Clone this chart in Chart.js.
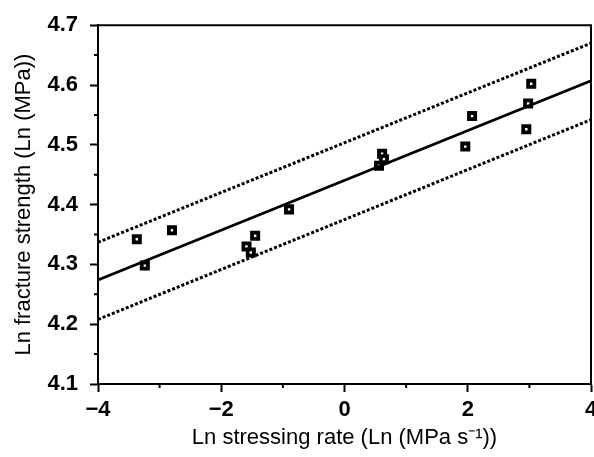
<!DOCTYPE html>
<html>
<head>
<meta charset="utf-8">
<script src="https://cdn.jsdelivr.net/npm/chart.js@4"></script>
<style>
  html, body { margin: 0; padding: 0; background: #fff; }
  canvas { display: block; }
</style>
</head>
<body>
<canvas id="myChart" width="594" height="457"></canvas>
<script>
// measured points
const stressRate = [-3.37, -3.24, -2.80, -1.59, -1.52, -1.45, -0.90, 0.56, 0.61, 0.64, 1.96, 2.07, 2.95, 2.98, 3.03];
const strength = [4.342, 4.298, 4.357, 4.330, 4.320, 4.348, 4.392, 4.465, 4.485, 4.476, 4.497, 4.548, 4.526, 4.569, 4.602];

// regression line and bounds, ends at x = -4 and x = 4
const lineX = [-4, 4];
const fitY = [4.274, 4.607];
const upperY = [4.337, 4.670];
const lowerY = [4.208, 4.542];

const xMinor = [-3, -1, 1, 3];
const yMinor = [4.15, 4.25, 4.35, 4.45, 4.55, 4.65];

const font = "'Liberation Sans', Arial, sans-serif";

const pairs = (xs, ys) => xs.map((x, i) => ({ x: x, y: ys[i] }));

const frame = {
  id: "frame",
  afterDraw(chart) {
    const ctx = chart.ctx;
    const a = chart.chartArea;
    const xs = chart.scales.x;
    const ys = chart.scales.y;
    ctx.save();
    ctx.strokeStyle = "#000";
    ctx.lineWidth = 2;
    ctx.beginPath();
    ctx.moveTo(a.left, a.top);
    ctx.lineTo(a.right, a.top);
    ctx.lineTo(a.right, a.bottom);
    ctx.stroke();
    ctx.beginPath();
    xMinor.forEach(v => {
      const px = xs.getPixelForValue(v);
      ctx.moveTo(px, a.bottom);
      ctx.lineTo(px, a.bottom + 4);
    });
    yMinor.forEach(v => {
      const py = ys.getPixelForValue(v);
      ctx.moveTo(a.left, py);
      ctx.lineTo(a.left - 4, py);
    });
    ctx.stroke();
    ctx.restore();
  }
};

const ctx = document.getElementById("myChart");

new Chart(ctx, {
  data: {
    datasets: [
      {
        type: "line",
        data: pairs(lineX, fitY),
        borderColor: "#000",
        borderWidth: 2.6,
        pointRadius: 0
      },
      {
        type: "line",
        data: pairs(lineX, upperY),
        borderColor: "#000",
        borderWidth: 3,
        borderDash: [3, 2],
        pointRadius: 0
      },
      {
        type: "line",
        data: pairs(lineX, lowerY),
        borderColor: "#000",
        borderWidth: 3,
        borderDash: [3, 2],
        pointRadius: 0
      },
      {
        type: "scatter",
        data: pairs(stressRate, strength),
        pointStyle: "rect",
        pointRadius: 4.4,
        backgroundColor: "#fff",
        borderColor: "#000",
        borderWidth: 3.8
      }
    ]
  },
  options: {
    responsive: false,
    animation: false,
    // the last x label is cut off at the page edge, as in the original
    layout: { autoPadding: false, padding: { top: 20, right: 3, left: 0, bottom: 0 } },
    plugins: {
      legend: { display: false },
      tooltip: { enabled: false }
    },
    scales: {
      x: {
        type: "linear",
        min: -4,
        max: 4,
        afterFit: (scale) => {
          scale.height = 73;
          scale.paddingRight = 0;
        },
        border: { color: "#000", width: 2 },
        grid: { drawOnChartArea: false, tickLength: 8, tickWidth: 2, tickColor: "#000" },
        ticks: {
          stepSize: 2,
          padding: 5,
          color: "#000",
          font: { family: font, size: 22, weight: "bold" },
          callback: v => (v < 0 ? "\u2212" + Math.abs(v) : String(v))
        },
        title: {
          display: true,
          text: "Ln stressing rate (Ln (MPa s\u207B\u00B9))",
          color: "#000",
          font: { family: font, size: 22 },
          padding: { top: 0, bottom: 6 }
        }
      },
      y: {
        type: "linear",
        min: 4.1,
        max: 4.7,
        afterFit: (scale) => { scale.width = 98; },
        border: { color: "#000", width: 2 },
        grid: { drawOnChartArea: false, tickLength: 8, tickWidth: 2, tickColor: "#000" },
        ticks: {
          stepSize: 0.1,
          padding: 12,
          color: "#000",
          font: { family: font, size: 22, weight: "bold" },
          callback: v => v.toFixed(1)
        },
        title: {
          display: true,
          text: "Ln fracture strength (Ln (MPa))",
          color: "#000",
          font: { family: font, size: 22 },
          padding: { top: 11, bottom: 0 }
        }
      }
    }
  },
  plugins: [frame]
});
</script>
</body>
</html>
